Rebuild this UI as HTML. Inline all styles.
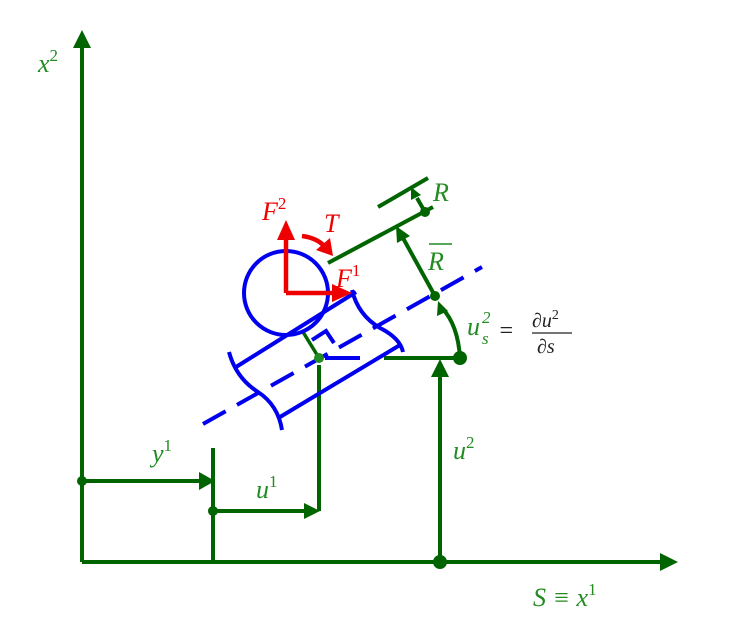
<!DOCTYPE html>
<html><head><style>body{margin:0;background:#fff}svg{display:block}
text{font-family:"Liberation Serif",serif;font-style:italic}</style></head><body>
<svg width="750" height="625" viewBox="0 0 750 625" xmlns="http://www.w3.org/2000/svg">
<g stroke="#006400" stroke-width="4" fill="none">
<line x1="82" y1="562" x2="665" y2="562"/>
<line x1="82" y1="562" x2="82" y2="44"/>
<line x1="82" y1="481" x2="200" y2="481"/>
<line x1="213" y1="448" x2="213" y2="562"/>
<line x1="213" y1="511" x2="305" y2="511"/>
<line x1="319" y1="365" x2="319" y2="511"/>
<line x1="440" y1="562" x2="440" y2="376"/>
<line x1="384" y1="358" x2="460" y2="358"/>
<line x1="328" y1="263" x2="433" y2="207"/>
<line x1="378" y1="207" x2="428" y2="178"/>
<line x1="425" y1="212" x2="417" y2="198"/>
<line x1="435" y1="296" x2="403" y2="238"/>
<line x1="319" y1="358" x2="303" y2="332" stroke-width="3.5"/>
<path d="M460 358 Q458 325 442 308"/>
</g>
<g fill="#006400">
<polygon points="678,562 660,553 660,571"/>
<polygon points="82,30 73,48 91,48"/>
<polygon points="215,481 199,472 199,490"/>
<polygon points="320,511 304,503 304,519"/>
<polygon points="440,359 431,377 449,377"/>
<polygon points="411,187 411,200 421,195"/>
<polygon points="396,226 397,243 410,236"/>
<polygon points="438,301 437,316 448,311"/>
<circle cx="82" cy="481" r="5"/><circle cx="213" cy="511" r="5"/>
<circle cx="440" cy="562" r="7"/><circle cx="460" cy="358" r="7"/>
<circle cx="425" cy="212" r="5"/><circle cx="435" cy="296" r="5"/>
</g>
<g stroke="#0000ee" stroke-width="4" fill="none">
<line x1="203" y1="424" x2="482" y2="267" stroke-dasharray="26,13"/>
<line x1="236" y1="367" x2="356" y2="292"/>
<line x1="280" y1="417" x2="400" y2="345"/>
<path d="M229 352 Q236 378 258 392 Q278 405 282 430"/>
<path d="M352 290 Q358 315 380 328 Q400 338 403 352"/>
<line x1="325" y1="358" x2="360" y2="358"/>
<path d="M312 340 L326 331 L334 343"/>
<circle cx="286" cy="293" r="42"/>
</g>
<circle cx="319" cy="358" r="5" fill="#228b22"/>
<g stroke="#ee0000" stroke-width="4.5" fill="none">
<path d="M286 293 L286 238 M286 293 L335 293"/>
<path d="M302 236 Q318 238 326 248"/>
</g>
<g fill="#ee0000">
<polygon points="286,220 277,240 295,240"/>
<polygon points="352,293 332,284 332,302"/>
<polygon points="333,256 316,250 330,238"/>
</g>
<g fill="#228b22" font-size="26">
<text x="38" y="72">x<tspan font-size="17" dy="-11" font-style="normal">2</tspan></text>
<text x="533" y="606">S ≡ <tspan>x</tspan><tspan font-size="17" dy="-11" font-style="normal">1</tspan></text>
<text x="152" y="462">y<tspan font-size="17" dy="-11" font-style="normal">1</tspan></text>
<text x="256" y="498">u<tspan font-size="17" dy="-11" font-style="normal">1</tspan></text>
<text x="453" y="459">u<tspan font-size="17" dy="-11" font-style="normal">2</tspan></text>
<text x="433" y="201">R</text>
<text x="428" y="270">R</text>
<line x1="429" y1="244" x2="452" y2="244" stroke="#228b22" stroke-width="1.5"/>
<text x="467" y="335">u</text>
<text x="482" y="323" font-size="17" font-style="normal">2</text>
<text x="482" y="344" font-size="17">s</text>
</g>
<g fill="#222" font-size="24">
<text x="498" y="338" font-style="normal">=</text>
<text x="532" y="327" font-size="20">∂u<tspan font-size="14" dy="-8" font-style="normal">2</tspan></text>
<line x1="532" y1="333" x2="572" y2="333" stroke="#222" stroke-width="1.2"/>
<text x="537" y="353" font-size="20">∂s</text>
</g>
<g fill="#ee0000" font-size="26">
<text x="262" y="220">F<tspan font-size="17" dy="-11" font-style="normal">2</tspan></text>
<text x="324" y="232">T</text>
<text x="336" y="287">F<tspan font-size="17" dy="-11" font-style="normal">1</tspan></text>
</g>
</svg>
</body></html>
